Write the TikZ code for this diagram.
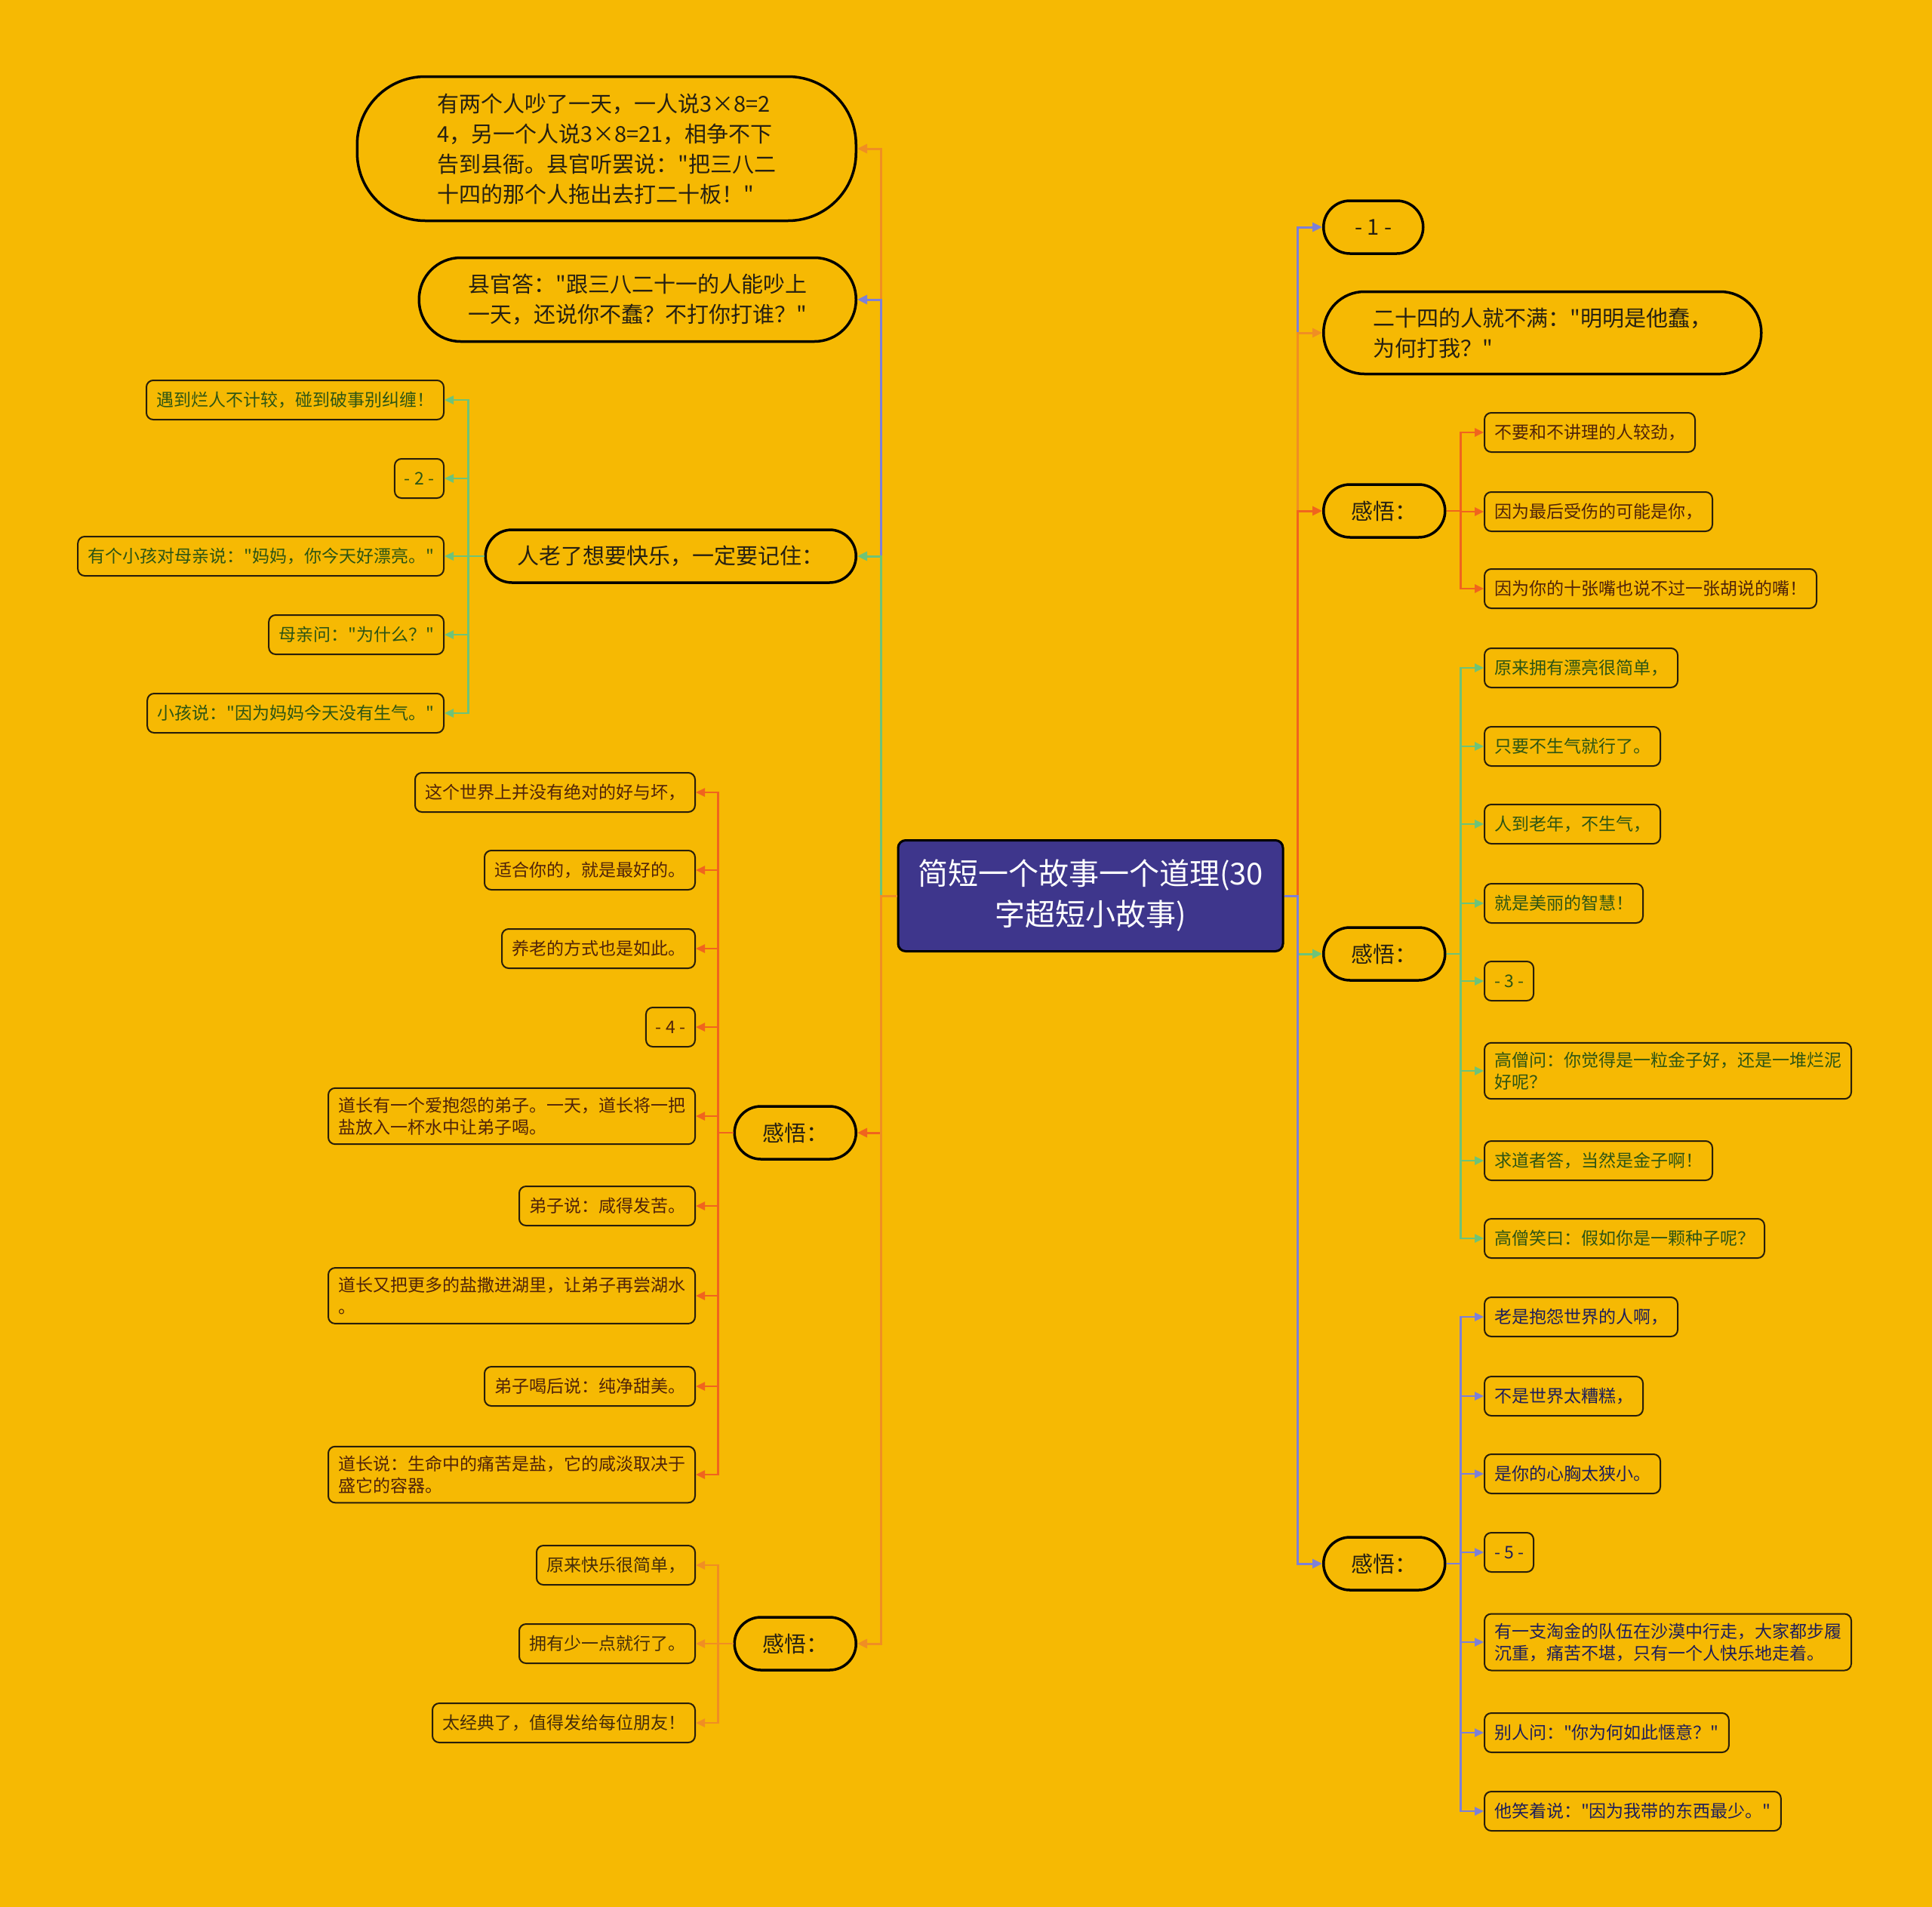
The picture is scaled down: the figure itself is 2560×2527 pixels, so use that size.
\documentclass[tikz,border=0pt]{standalone}
\usepackage{fontspec}
\newfontfamily\cjkfont{Noto Sans CJK SC}
\usepackage{xcolor}
\usepackage{tikz}
\usetikzlibrary{arrows.meta, positioning}
\definecolor{MapBg}{RGB}{246, 185, 3}
\definecolor{MapRoot}{RGB}{62, 54, 140}
\definecolor{MapInk}{RGB}{38, 32, 18}
\definecolor{MapEdge}{RGB}{40, 30, 10}
\definecolor{MapOrange}{RGB}{240, 142, 35}
\definecolor{MapRed}{RGB}{240, 100, 30}
\definecolor{MapPurple}{RGB}{125, 128, 215}
\definecolor{MapGreen}{RGB}{110, 195, 120}
\definecolor{InkGreen}{RGB}{45, 85, 20}
\definecolor{InkRed}{RGB}{80, 35, 10}
\definecolor{InkBrown}{RGB}{70, 45, 10}
\definecolor{InkNavy}{RGB}{30, 30, 90}

\tikzset{
  rootbox/.style={draw=black, line width=3pt, fill=MapRoot, rounded corners=10pt, text=white,
    align=center, minimum width=510pt, minimum height=147pt, font=\cjkfont\fontsize{40}{54}\selectfont},
  topicbox/.style={draw=black, line width=3.5pt, rounded corners=35pt, minimum height=70pt,
    inner xsep=20pt, align=center, text=MapInk, font=\cjkfont\fontsize{29}{40}\selectfont},
  leafbox/.style={draw=MapEdge, line width=2pt, rounded corners=9pt, minimum height=52pt,
    inner xsep=13pt, inner ysep=12pt, align=left, font=\cjkfont\fontsize{23}{29}\selectfont},
  link/.style={line width=3pt, -{Triangle[length=13pt, width=12pt]}},
  twig/.style={line width=2.5pt, -{Triangle[length=12pt, width=11pt]}},
}

\begin{document}
\begin{tikzpicture}[x=1pt, y=-1pt]
  \useasboundingbox (0,0) rectangle (2560,2527);
  \fill[MapBg] (0,0) rectangle (2560,2527);

  % centre
  \node[rootbox] (root) at (1445,1187) {简短一个故事一个道理(30\\字超短小故事)};

  % left side
  \node[topicbox, minimum width=661pt, minimum height=191pt, rounded corners=90pt, align=left, anchor=east] (story) at (1136,197)
    {有两个人吵了一天，一人说3×8=2\\4，另一个人说3×8=21，相争不下\\告到县衙。县官听罢说："把三八二\\十四的那个人拖出去打二十板！"};
  \node[topicbox, minimum width=579pt, minimum height=111pt, rounded corners=55pt, align=left, anchor=east] (answer) at (1136,397)
    {县官答："跟三八二十一的人能吵上\\一天，还说你不蠢？不打你打谁？"};
  \node[topicbox, minimum width=491pt, anchor=east] (oldage) at (1136,737) {人老了想要快乐，一定要记住：};
  \node[topicbox, minimum width=161pt, anchor=east] (insightA) at (1136,1501) {感悟：};
  \node[topicbox, minimum width=161pt, anchor=east] (insightB) at (1136,2178) {感悟：};

  % right side
  \node[topicbox, minimum width=132pt, anchor=west] (num1) at (1752,301) {- 1 -};
  \node[topicbox, minimum width=580pt, minimum height=109pt, rounded corners=54pt, align=left, anchor=west] (protest) at (1752,441)
    {二十四的人就不满："明明是他蠢，\\为何打我？"};
  \node[topicbox, minimum width=161pt, anchor=west] (insightC) at (1752,677) {感悟：};
  \node[topicbox, minimum width=161pt, anchor=west] (insightD) at (1752,1264) {感悟：};
  \node[topicbox, minimum width=161pt, anchor=west] (insightE) at (1752,2072) {感悟：};

  % leaves of oldage
  \node[leafbox, text=InkGreen, anchor=east] (leafA1) at (589,530) {遇到烂人不计较，碰到破事别纠缠！};
  \node[leafbox, text=InkGreen, anchor=east] (leafA2) at (589,634) {- 2 -};
  \node[leafbox, text=InkGreen, anchor=east] (leafA3) at (589,737) {有个小孩对母亲说："妈妈，你今天好漂亮。"};
  \node[leafbox, text=InkGreen, anchor=east] (leafA4) at (589,841) {母亲问："为什么？"};
  \node[leafbox, text=InkGreen, anchor=east] (leafA5) at (589,945) {小孩说："因为妈妈今天没有生气。"};

  % leaves of insightA
  \node[leafbox, text=InkRed, anchor=east] (leafB1) at (922,1050) {这个世界上并没有绝对的好与坏，};
  \node[leafbox, text=InkRed, anchor=east] (leafB2) at (922,1153) {适合你的，就是最好的。};
  \node[leafbox, text=InkRed, anchor=east] (leafB3) at (922,1257) {养老的方式也是如此。};
  \node[leafbox, text=InkRed, anchor=east] (leafB4) at (922,1361) {- 4 -};
  \node[leafbox, text=InkRed, anchor=east] (leafB5) at (922,1479) {道长有一个爱抱怨的弟子。一天，道长将一把\\盐放入一杯水中让弟子喝。};
  \node[leafbox, text=InkRed, anchor=east] (leafB6) at (922,1598) {弟子说：咸得发苦。};
  \node[leafbox, text=InkRed, anchor=east] (leafB7) at (922,1717) {道长又把更多的盐撒进湖里，让弟子再尝湖水\\。};
  \node[leafbox, text=InkRed, anchor=east] (leafB8) at (922,1837) {弟子喝后说：纯净甜美。};
  \node[leafbox, text=InkRed, anchor=east] (leafB9) at (922,1954) {道长说：生命中的痛苦是盐，它的咸淡取决于\\盛它的容器。};

  % leaves of insightB
  \node[leafbox, text=InkBrown, anchor=east] (leafC1) at (922,2074) {原来快乐很简单，};
  \node[leafbox, text=InkBrown, anchor=east] (leafC2) at (922,2178) {拥有少一点就行了。};
  \node[leafbox, text=InkBrown, anchor=east] (leafC3) at (922,2283) {太经典了，值得发给每位朋友！};

  % leaves of insightC
  \node[leafbox, text=InkRed, anchor=west] (leafD1) at (1966,573) {不要和不讲理的人较劲，};
  \node[leafbox, text=InkRed, anchor=west] (leafD2) at (1966,678) {因为最后受伤的可能是你，};
  \node[leafbox, text=InkRed, anchor=west] (leafD3) at (1966,780) {因为你的十张嘴也说不过一张胡说的嘴！};

  % leaves of insightD
  \node[leafbox, text=InkGreen, anchor=west] (leafE1) at (1966,885) {原来拥有漂亮很简单，};
  \node[leafbox, text=InkGreen, anchor=west] (leafE2) at (1966,989) {只要不生气就行了。};
  \node[leafbox, text=InkGreen, anchor=west] (leafE3) at (1966,1092) {人到老年，不生气，};
  \node[leafbox, text=InkGreen, anchor=west] (leafE4) at (1966,1197) {就是美丽的智慧！};
  \node[leafbox, text=InkGreen, anchor=west] (leafE5) at (1966,1300) {- 3 -};
  \node[leafbox, text=InkGreen, anchor=west] (leafE6) at (1966,1419) {高僧问：你觉得是一粒金子好，还是一堆烂泥\\好呢？};
  \node[leafbox, text=InkGreen, anchor=west] (leafE7) at (1966,1538) {求道者答，当然是金子啊！};
  \node[leafbox, text=InkGreen, anchor=west] (leafE8) at (1966,1641) {高僧笑曰：假如你是一颗种子呢？};

  % leaves of insightE
  \node[leafbox, text=InkNavy, anchor=west] (leafF1) at (1966,1745) {老是抱怨世界的人啊，};
  \node[leafbox, text=InkNavy, anchor=west] (leafF2) at (1966,1850) {不是世界太糟糕，};
  \node[leafbox, text=InkNavy, anchor=west] (leafF3) at (1966,1953) {是你的心胸太狭小。};
  \node[leafbox, text=InkNavy, anchor=west] (leafF4) at (1966,2057) {- 5 -};
  \node[leafbox, text=InkNavy, anchor=west] (leafF5) at (1966,2176) {有一支淘金的队伍在沙漠中行走，大家都步履\\沉重，痛苦不堪，只有一个人快乐地走着。};
  \node[leafbox, text=InkNavy, anchor=west] (leafF6) at (1966,2296) {别人问："你为何如此惬意？"};
  \node[leafbox, text=InkNavy, anchor=west] (leafF7) at (1966,2400) {他笑着说："因为我带的东西最少。"};

  % main branches
  \foreach \kid/\col in {story/MapOrange, answer/MapPurple, oldage/MapGreen, insightA/MapRed, insightB/MapOrange}
    \draw[link, \col] (root.west) -- ++(-21,0) |- (\kid.east);
  \foreach \kid/\col in {num1/MapPurple, protest/MapOrange, insightC/MapRed, insightD/MapGreen, insightE/MapPurple}
    \draw[link, \col] (root.east) -- ++(18,0) |- (\kid.west);

  % sub branches
  \foreach \kid in {leafA1, leafA2, leafA3, leafA4, leafA5}
    \draw[twig, MapGreen] (oldage.west) -- ++(-21,0) |- (\kid.east);
  \foreach \kid in {leafB1, leafB2, leafB3, leafB4, leafB5, leafB6, leafB7, leafB8, leafB9}
    \draw[twig, MapRed] (insightA.west) -- ++(-20,0) |- (\kid.east);
  \foreach \kid in {leafC1, leafC2, leafC3}
    \draw[twig, MapOrange] (insightB.west) -- ++(-20,0) |- (\kid.east);
  \foreach \kid in {leafD1, leafD2, leafD3}
    \draw[twig, MapRed] (insightC.east) -- ++(19,0) |- (\kid.west);
  \foreach \kid in {leafE1, leafE2, leafE3, leafE4, leafE5, leafE6, leafE7, leafE8}
    \draw[twig, MapGreen] (insightD.east) -- ++(19,0) |- (\kid.west);
  \foreach \kid in {leafF1, leafF2, leafF3, leafF4, leafF5, leafF6, leafF7}
    \draw[twig, MapPurple] (insightE.east) -- ++(19,0) |- (\kid.west);
\end{tikzpicture}
\end{document}
